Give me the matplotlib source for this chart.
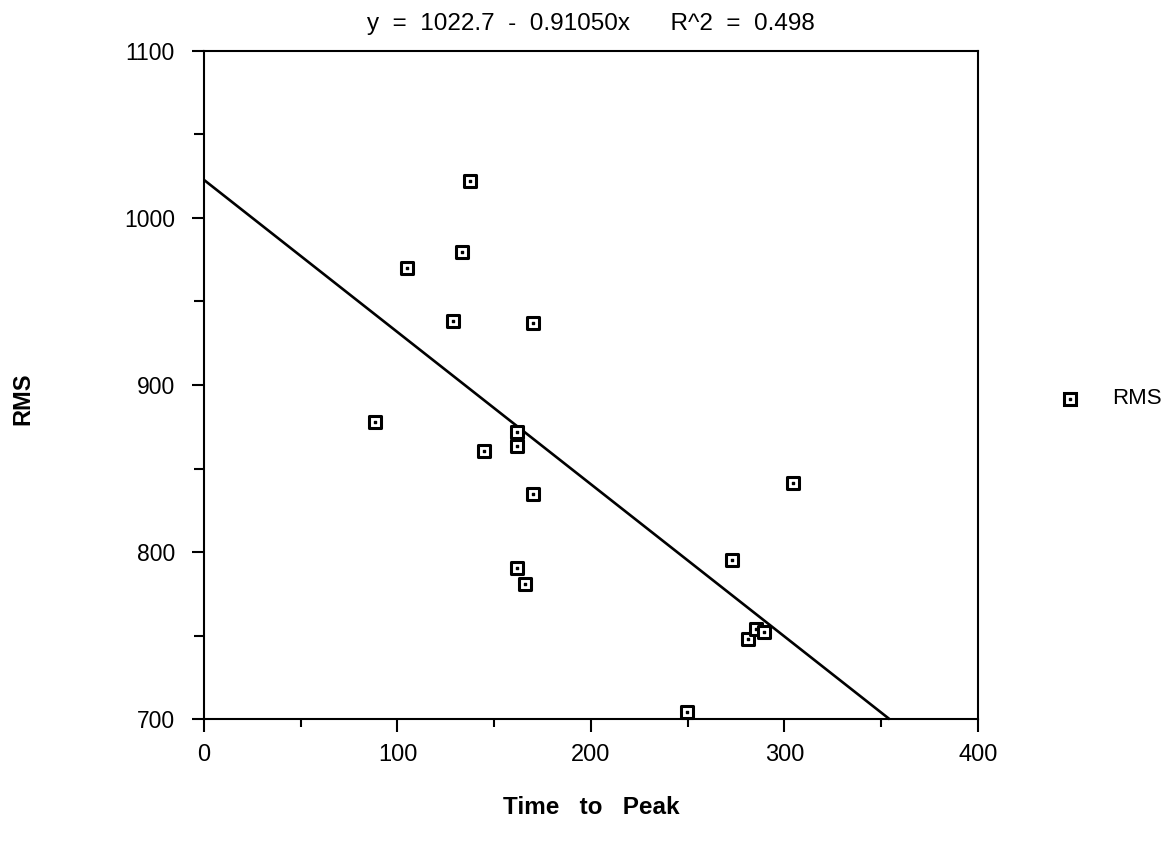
import numpy as np
import matplotlib
matplotlib.use("Agg")
import matplotlib.pyplot as plt
from matplotlib.ticker import MultipleLocator

# Time to peak vs. RMS observations
time_to_peak = [137.5, 133.3, 105.1, 128.8, 169.9, 88.5, 161.6, 161.6, 144.9,
                170.2, 161.6, 166.1, 304.5, 272.7, 281.3, 285.3, 289.6, 249.4]
rms = [1022.0, 979.4, 969.8, 938.3, 936.9, 878.0, 871.7, 863.7, 860.5,
       834.8, 790.3, 780.8, 841.6, 795.3, 747.9, 754.0, 752.4, 704.4]

# Fitted regression
intercept = 1022.7
slope = -0.91050
r_squared = 0.498

x_limits = (0, 400)
y_limits = (700, 1100)

plt.rcParams['font.family'] = ['Liberation Sans', 'DejaVu Sans']

fig = plt.figure(figsize=(11.69, 8.52), dpi=100)
ax = fig.add_axes([0.1745, 0.1557, 0.8366 - 0.1745, 0.9405 - 0.1557])

# Regression line, clipped at the bottom of the plot
x_end = (y_limits[0] - intercept) / slope
fx = np.array([0.0, x_end])
ax.plot(fx, intercept + slope * fx, color='black', lw=1.9, solid_capstyle='butt',
        clip_on=False, zorder=2)

# Square markers with a centre dot
ax.scatter(time_to_peak, rms, marker='s', s=80, facecolors='white',
           edgecolors='black', linewidths=2.2, zorder=3, clip_on=False)
ax.scatter(time_to_peak, rms, marker='s', s=4, color='black', zorder=4,
           clip_on=False)

ax.set_xlim(*x_limits)
ax.set_ylim(*y_limits)
ax.xaxis.set_major_locator(MultipleLocator(100))
ax.xaxis.set_minor_locator(MultipleLocator(50))
ax.yaxis.set_major_locator(MultipleLocator(100))
ax.yaxis.set_minor_locator(MultipleLocator(50))

for s in ax.spines.values():
    s.set_linewidth(1.5)

ax.tick_params(axis='x', which='major', direction='out', length=9, width=1.5,
               labelsize=17, pad=9)
ax.tick_params(axis='x', which='minor', direction='out', length=6, width=1.5)
ax.tick_params(axis='y', which='major', direction='out', length=9, width=1.5,
               labelsize=16.5, pad=12)
ax.tick_params(axis='y', which='minor', direction='out', length=7, width=1.5)

eq = f"y  =  {intercept:.1f}  -  {abs(slope):.5f}x      R^2  =  {r_squared:.3f}"
ax.set_title(eq, fontsize=17.5, pad=15)
ax.set_xlabel("Time   to   Peak", fontsize=17.5, fontweight='bold', labelpad=21)
fig.text(23 / 1169, 1 - 399 / 852, "RMS", fontsize=17, fontweight='bold',
         rotation=90, ha='center', va='center')

# Legend placed to the right of the plot
leg_x = 1070 / 1169
leg_y = 1 - 399 / 852
fig.lines.append(plt.Line2D([leg_x], [leg_y], transform=fig.transFigure,
                            marker='s', markersize=9, markerfacecolor='white',
                            markeredgecolor='black', markeredgewidth=2.2,
                            linestyle='none'))
fig.lines.append(plt.Line2D([leg_x], [leg_y], transform=fig.transFigure,
                            marker='s', markersize=2, color='black',
                            linestyle='none'))
fig.text(1112 / 1169, leg_y, "RMS", fontsize=16, va='center', ha='left')

fig.savefig("out.png", dpi=100, facecolor='white')
